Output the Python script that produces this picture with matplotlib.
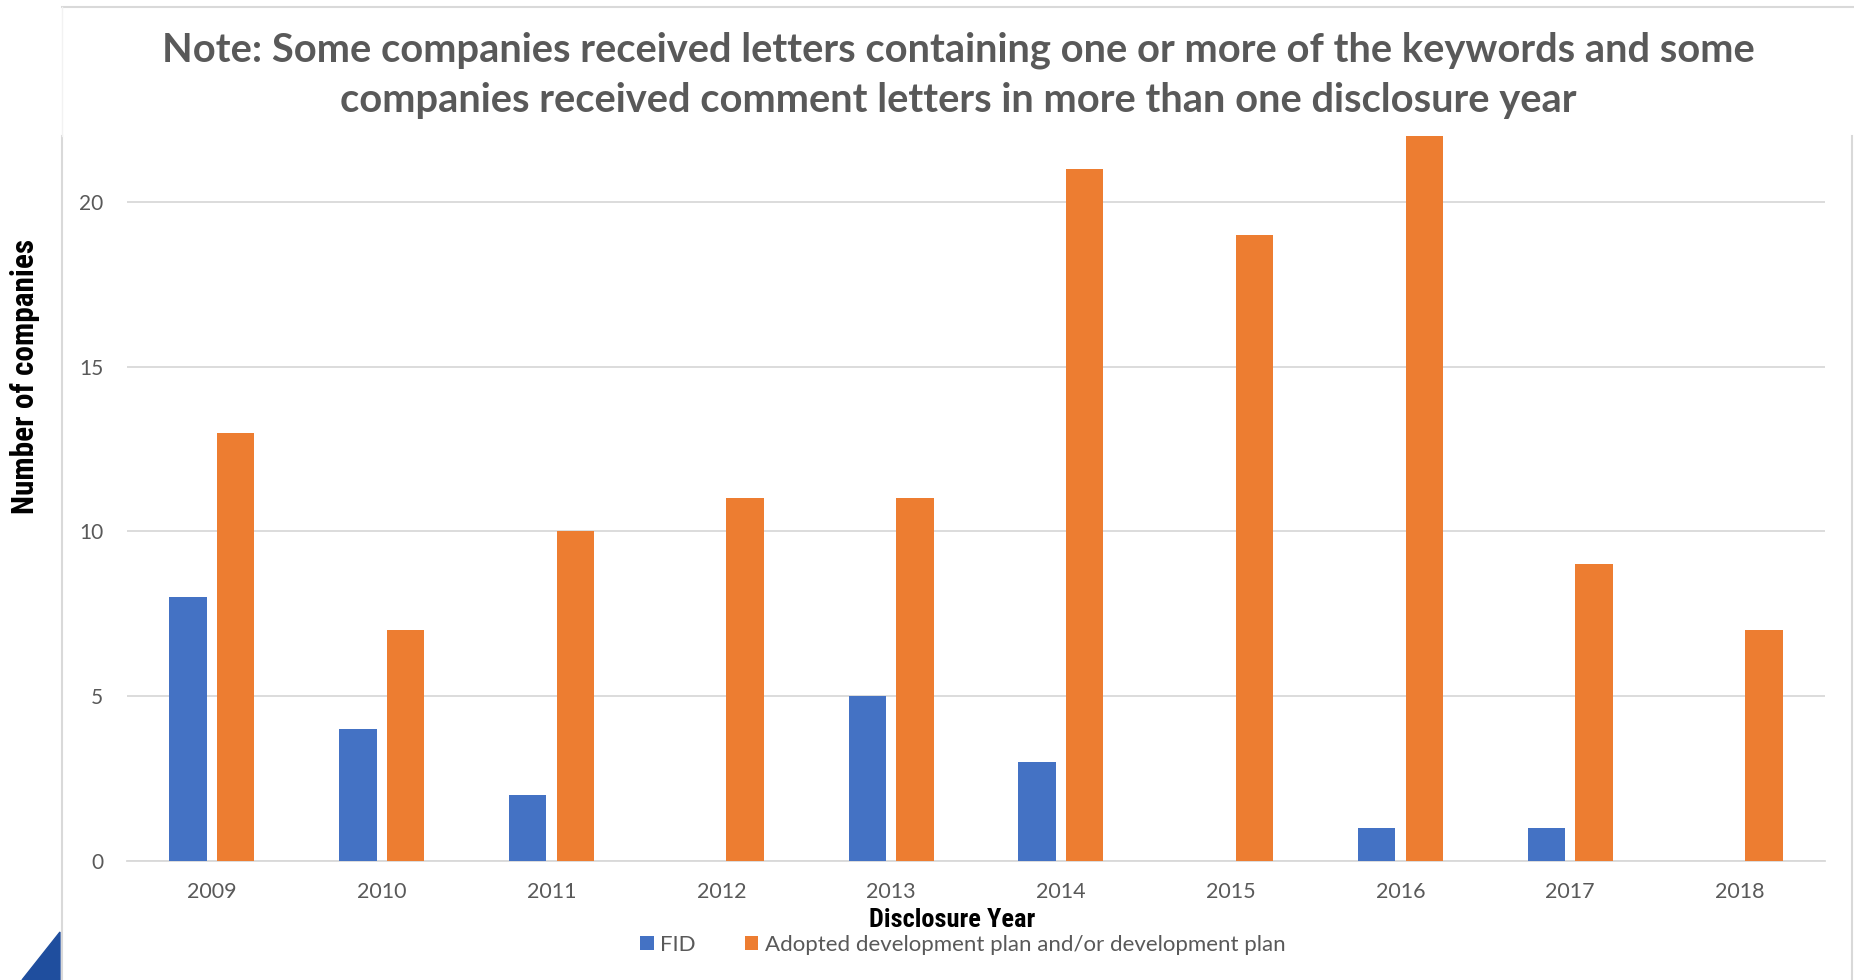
import numpy as np
import matplotlib.pyplot as plt
from matplotlib.lines import Line2D
from matplotlib.patches import Polygon

years = ["2009", "2010", "2011", "2012", "2013", "2014", "2015", "2016", "2017", "2018"]
fid = [8, 4, 2, 0, 5, 3, 0, 1, 1, 0]
adopted = [13, 7, 10, 11, 11, 21, 19, 22, 9, 7]

title = ("Note: Some companies received letters containing one or more of the keywords and some\n"
         "companies received comment letters in more than one disclosure year")

W, H = 1854, 980
fig = plt.figure(figsize=(W / 100, H / 100), dpi=100)
ax = fig.add_axes([127 / W, 1 - 861 / H, (1825 - 127) / W, (861 - 136) / H])

x = np.arange(len(years))
bw = 0.22
ax.bar(x - 0.14, fid, bw, color="#4472C4", label="FID", zorder=3)
ax.bar(x + 0.14, adopted, bw, color="#ED7D31",
       label="Adopted development plan and/or development plan", zorder=3)

ax.set_xlim(-0.5, len(years) - 0.5)
ax.set_ylim(0, 22)
ax.set_yticks([0, 5, 10, 15, 20])
ax.set_xticks(x)
ax.set_xticklabels(years)
ax.yaxis.grid(True, color="#D9D9D9", lw=1.3, zorder=0)
for s in ["top", "right", "left"]:
    ax.spines[s].set_visible(False)
ax.spines["bottom"].set_color("#D9D9D9")
ax.spines["bottom"].set_linewidth(1.3)
ax.tick_params(length=0, labelcolor="#595959")
ax.tick_params(axis="y", pad=17, labelsize=15)
ax.tick_params(axis="x", pad=15, labelsize=15.5)
for lab in ax.get_xticklabels() + ax.get_yticklabels():
    lab.set_family("Lato")

lab_font = ["Roboto Condensed", "Liberation Sans Narrow", "Roboto"]
ax.set_xlabel("Disclosure Year", family=lab_font, fontweight="bold", fontsize=19)
ax.xaxis.set_label_coords((952 - 127) / (1825 - 127), -(920 - 861) / (861 - 136))
ax.xaxis.label.set_va("center")
ax.set_ylabel("Number of companies", family=lab_font, fontweight="bold", fontsize=22.5)
ax.yaxis.set_label_coords((40 - 127) / (1825 - 127), (861 - 376) / (861 - 136))

leg = ax.legend(loc="center", bbox_to_anchor=(963 / W, 1 - 945 / H),
                bbox_transform=fig.transFigure, ncol=2, frameon=False,
                prop={"family": "Lato", "size": 16}, handlelength=0.6,
                handleheight=0.6, handletextpad=0.3, columnspacing=2.2)
for t in leg.get_texts():
    t.set_color("#595959")

fig.text(958 / W, 1 - 75.5 / H, title, ha="center", va="center", family="Lato",
         fontweight="bold", fontsize=28.7, color="#595959", linespacing=1.42)

# frame from the pasted chart
fr = "#D9D9D9"
fig.add_artist(Line2D([62 / W, 62 / W], [0, 1 - 136 / H], color=fr, lw=1.5))
fig.add_artist(Line2D([62 / W, 1], [1 - 7 / H, 1 - 7 / H], color=fr, lw=1.5))
fig.add_artist(Line2D([1852 / W, 1852 / W], [0, 1 - 136 / H], color=fr, lw=1.5))
fig.add_artist(Line2D([62 / W, 62 / W], [1 - 136 / H, 1 - 7 / H], color="#F2F2F2", lw=1))

# logo fragment in the corner
fig.add_artist(Polygon([[22 / W, 0], [60 / W, 48 / H], [60 / W, 0]],
                       closed=True, transform=fig.transFigure, color="#1F4E9E"))

fig.savefig("out.png", dpi=100)
